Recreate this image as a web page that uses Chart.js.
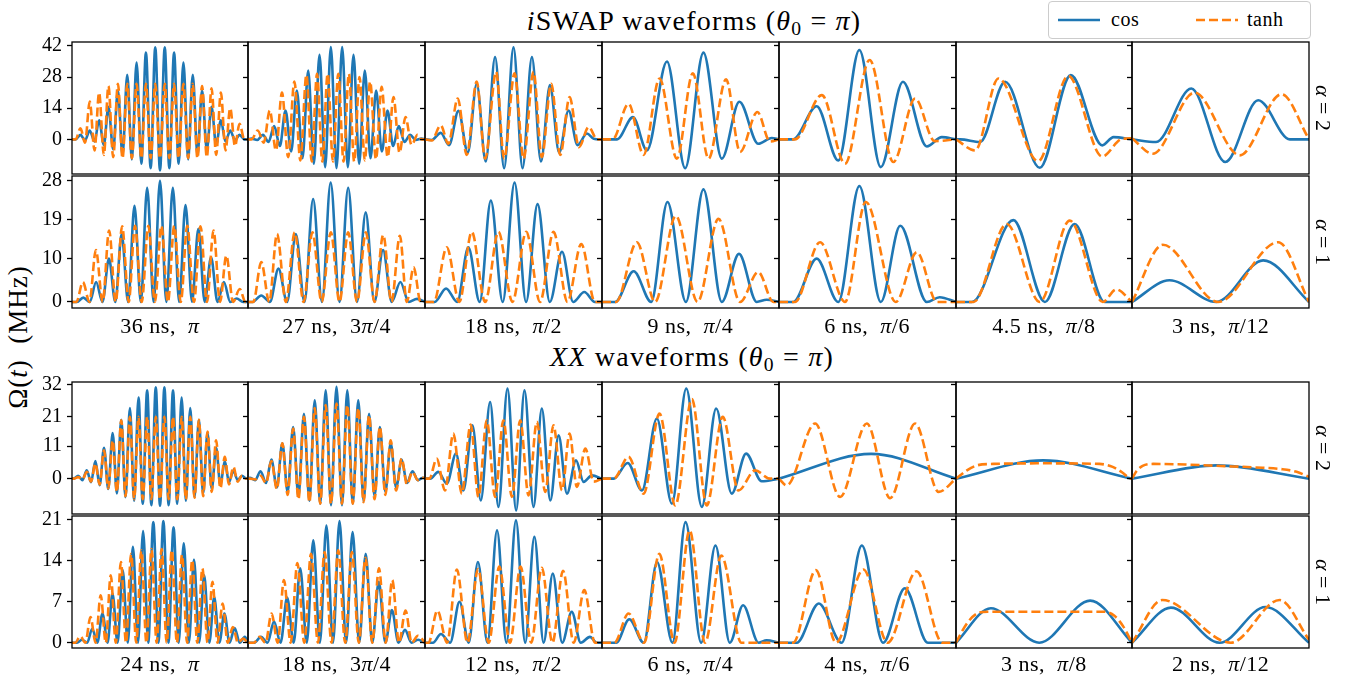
<!DOCTYPE html>
<html>
<head>
<meta charset="utf-8">
<script src="https://cdn.jsdelivr.net/npm/chart.js@4.4.0/dist/chart.umd.min.js"></script>
<style>
  body { margin: 0; background: #fff; }
  #fig { position: relative; width: 1361px; height: 683px; overflow: hidden;
         font-family: 'Liberation Serif', 'Times New Roman', serif; color: #000; }
  #fig canvas { position: absolute; }
  .txt { position: absolute; white-space: nowrap; line-height: 1; }
  .txt sub { font-size: 0.7em; vertical-align: -0.25em; line-height: 0; }
  #legend { position: absolute; left: 1048px; top: 1px; width: 261px; height: 36px;
            border: 1px solid #ccc; border-radius: 4px; background: #fff; font-size: 20px; }
  #legend svg { position: absolute; }
  #legend span { position: absolute; line-height: 1; letter-spacing: 0.5px; }
</style>
</head>
<body>
<div id="fig">
  <div class="txt" id="t1"><i>i</i>SWAP waveforms (<i>θ</i><sub>0</sub> = <i>π</i>)</div>
  <div class="txt" id="t2"><i>XX</i> waveforms (<i>θ</i><sub>0</sub> = <i>π</i>)</div>
  <div class="txt" id="ylab">Ω(<i>t</i>)&nbsp; (MHz)</div>
  <div id="legend">
    <svg style="left:9px;top:16px" width="42" height="4"><line x1="0" y1="2" x2="42" y2="2" stroke="#1f77b4" stroke-width="2.6"/></svg>
    <span style="left:62px;top:7px">cos</span>
    <svg style="left:147px;top:16px" width="42" height="4"><line x1="0" y1="2" x2="42" y2="2" stroke="#ff7f0e" stroke-width="2.6" stroke-dasharray="9,4"/></svg>
    <span style="left:198px;top:7px">tanh</span>
  </div>
</div>
<script>
// ---- data: extrema of each waveform, x = % of gate time, y = MHz ----
const iswapLabels = ['36 ns, π', '27 ns, 3π/4', '18 ns, π/2', '9 ns, π/4', '6 ns, π/6', '4.5 ns, π/8', '3 ns, π/12'];
const xxLabels = ['24 ns, π', '18 ns, 3π/4', '12 ns, π/2', '6 ns, π/4', '4 ns, π/6', '3 ns, π/8', '2 ns, π/12'];
const alphaLabels = ['α = 2', 'α = 1', 'α = 2', 'α = 1'];
const rowTicks = [[0, 14, 28, 42], [0, 10, 19, 28], [0, 11, 21, 32], [0, 7, 14, 21]];
const rowRanges = [[-15.6, 43.8], [-1.4, 29.1], [-12, 32.8], [-0.9, 21.65]];

const iswapA2Cos = [
  [[0,0],[2.1,0],[4.8,2],[7.4,-0.5],[10.1,4],[12.8,-1],[15.4,8.6],[18.1,-2.5],[20.7,14.6],[23.4,-4.5],[26.1,22],[28.7,-7],[31.4,29],[34,-9],[36.7,34.5],[39.4,-11],[42,39],[44.7,-13],[47.3,41.4],[50,-14],[52.7,41.4],[55.3,-13],[58,39],[60.6,-11],[63.3,34.5],[66,-9],[68.6,29],[71.3,-7],[73.9,22],[76.6,-4.5],[79.3,14.6],[81.9,-2.5],[84.6,8.6],[87.2,-1],[89.9,4],[92.6,-0.5],[95.2,2],[97.9,0],[100,0]],
  [[0,0],[2,0.3],[5.2,-0.3],[8.4,2],[11.6,-1.2],[14.8,6],[18,-3],[21.2,13],[24.4,-5.5],[27.6,22],[30.8,-8.5],[34,31],[37.2,-11],[40.4,38],[43.6,-12.5],[46.8,41.5],[50,-13],[53.2,41.5],[56.4,-12.5],[59.6,38],[62.8,-11],[66,31],[69.2,-8.5],[72.4,22],[75.6,-5.5],[78.8,13],[82,-3],[85.2,6],[88.4,-1.2],[91.6,2],[94.8,-0.3],[98,0.3],[100,0]],
  [[0,0],[3.8,-0.3],[8.9,2.9],[13.6,-2.6],[18.9,12.8],[24.2,-6],[29.2,25],[34.3,-10],[39.6,37],[44.7,-13],[50,41.4],[55.1,-13],[60.4,37],[65.5,-10],[70.6,24.4],[75.8,-6],[81.1,13],[86.2,-2.6],[91.5,2.6],[95.3,0.3],[100,0]],
  [[0,0],[8.5,0],[17.5,10],[25.4,-5],[36.7,35],[47,-13],[57.3,39],[67.7,-8.7],[77.6,16.9],[88.3,-2],[95.9,0.6],[100,0]],
  [[0,0],[8,0],[21.3,14.9],[33.5,-9.5],[45.4,40.2],[57.5,-12.5],[70,25.9],[83.5,-3.2],[92,1],[100,0]],
  [[0,0],[2.4,0],[13.7,-1.2],[27.9,25.9],[47.6,-12.8],[65.2,28.9],[83.1,-2.7],[89.5,1],[100,0]],
  [[0,0],[13.6,-1.2],[33.5,22.9],[52.7,-10.2],[71.3,17.6],[89.2,0],[100,0]]
];
const iswapA2Tanh = [
  [[0,0],[2.1,0],[4.8,5],[7.4,-1.5],[10.1,17],[12.8,-5],[15.4,21],[18.1,-7],[20.7,24],[23.4,-8],[26.1,25],[28.7,-8.5],[31.4,25],[34,-8.5],[36.7,25],[39.4,-8.5],[42,25],[44.7,-8.5],[47.3,25],[50,-8.5],[52.7,25],[55.3,-8.5],[58,25],[60.6,-8.5],[63.3,25],[66,-8.5],[68.6,25],[71.3,-8.5],[73.9,24],[76.6,-8],[79.3,23],[81.9,-7],[84.6,21],[87.2,-5],[89.9,14],[92.6,-3],[95.2,7],[97.9,0],[100,0]],
  [[0,0],[2,0],[5.5,4],[8.9,-1.5],[12.3,13],[15.8,-5],[19.2,21],[22.7,-8],[26.2,26],[29.6,-9.5],[33,29],[36,-10],[39,29.5],[42,-10],[45,29.5],[48,-10],[51,29.5],[54,-10],[57,29.5],[60,-10],[63,28],[66,-9.5],[69,26],[72.3,-9],[75.5,23.6],[78.9,-8],[82.2,19],[85.6,-6],[89,10],[92.4,-2.5],[95.8,2],[98,0],[100,0]],
  [[0,0],[3.8,-0.5],[8.9,6.3],[13.2,-2],[18.5,18.4],[23.6,-7],[29.2,26],[34,-8.7],[40.2,30.4],[44.7,-8.7],[50.6,29.7],[55.7,-8.7],[61.3,30.4],[66,-8],[71.3,25],[76.4,-7],[81.7,19],[87,-3.5],[92.5,5.6],[97.2,0],[100,0]],
  [[0,0],[6,0],[15,16],[23.5,-7],[32.5,27.4],[42.3,-8.7],[51.3,29.7],[60.2,-8.7],[70.1,27],[78,-5.7],[87.8,12.3],[94.9,-1],[100,0]],
  [[0,0],[9,0],[24.2,19.9],[37.3,-11],[51.2,35.7],[64.6,-10.2],[76.9,18.4],[88,-0.8],[100,0]],
  [[0,0],[10.9,-5],[24.1,27.4],[46.7,-9.8],[63.7,28.5],[83.1,-7.7],[93.8,0],[100,0.5]],
  [[0,0.5],[11.7,-6.5],[35.3,21],[60.9,-7.2],[84.5,20.3],[100,0]]
];

const iswapA1Cos = [
  [[0,0],[2.8,0],[6.4,1],[10.1,0],[13.7,4.6],[17.3,0],[21,10],[24.6,0],[28.2,15.7],[31.9,0],[35.5,22.2],[39.1,0],[42.7,26.4],[46.4,0],[50,28],[53.6,0],[57.3,26.4],[60.9,0],[64.5,22.4],[68.2,0],[71.8,16.9],[75.4,0],[79,10.3],[82.7,0],[86.3,4.6],[89.9,0],[93.6,0.8],[97.2,0],[100,0]],
  [[0,0],[2.6,0],[7.5,1.5],[12.4,0],[17.2,7.7],[22.1,0],[27,15.7],[31.9,0],[36.8,23.8],[41.8,0],[46.7,27.6],[51.7,0],[56.6,26.4],[61.6,0],[66.5,20.7],[71.4,0],[76.3,12],[81.2,0],[86.1,4.6],[90.8,0],[95.5,0.7],[100,0]],
  [[0,0],[5.5,0],[11.9,3.1],[18.2,0],[24.5,12.6],[30.9,0],[37.2,23.4],[43.9,0],[50.6,27.6],[57.1,0],[63.6,22.6],[70.5,0],[77.4,11.6],[83.7,0],[90,2.3],[96,0],[100,0]],
  [[0,0],[7.5,0],[17.9,7.1],[27.8,0],[37,23.1],[47.4,0],[57.3,26],[67.7,0],[77.4,11.1],[87.4,0],[93,0.5],[100,0]],
  [[0,0],[8.1,0],[21.3,10],[33.5,0],[45.4,26.8],[57.5,0],[68.5,17.6],[83.5,0],[90.8,1.1],[100,0]],
  [[0,0],[9,0],[32.6,18.9],[50.5,0],[67.4,18],[84.4,0],[100,0]],
  [[0,0],[21.2,5],[47.6,0],[74.1,9.6],[100,0]]
];
const iswapA1Tanh = [
  [[0,0],[2.5,0],[6.2,4.6],[9.9,0],[13.6,12],[17.4,0],[21.1,16.5],[24.8,0],[28.5,17.5],[32.2,0],[35.8,17.6],[39.6,0],[43.4,17.6],[47.1,0],[50.8,17.6],[54.5,0],[58.1,17.6],[61.8,0],[65.5,17.6],[69.3,0],[73,17.5],[76.7,0],[80.4,16.5],[84.1,0],[87.7,10.7],[91.5,0],[95.3,3],[98.5,0],[100,0]],
  [[0,0],[3,0],[7.5,9.2],[12,0],[16.4,15.7],[21.4,0],[26.4,16.1],[31.4,0],[36.4,16.1],[41.6,0],[46.8,16.1],[51.7,0],[56.6,16.1],[61.6,0],[66.6,16.1],[71.5,0],[76.4,15.5],[81.1,0],[85.8,15.3],[89.7,0],[93.6,8],[97.5,0],[100,0]],
  [[0,0],[5,0],[12.3,12.6],[19.4,0],[26.4,16.2],[34,0],[41.5,16.2],[49.4,0],[57.2,16.2],[65,0],[72.6,16.2],[80.5,0],[88.3,13.4],[96,0],[100,0]],
  [[0,0],[8,0],[19.7,13.8],[30,0],[41.7,19.9],[54,0],[65.8,19.2],[78,0],[88.3,6.9],[96.8,0],[100,0]],
  [[0,0],[9,0],[23.2,13.8],[37.3,0],[49,23.1],[66,0],[77.9,11.5],[89.2,0],[100,0]],
  [[0,0],[10,0],[28.8,18],[47.6,0],[64.6,18.8],[83.4,0],[91,2.9],[100,0]],
  [[0,0],[17.4,13.2],[48.6,0],[82.6,13.8],[100,0]]
];

const xxA2Cos = [
  [[0,0],[1,0],[3.5,1],[5.9,-0.5],[8.4,2.8],[10.8,-1.2],[13.3,6],[15.7,-2.2],[18.2,10.5],[20.6,-3.5],[23.1,15.5],[25.5,-5],[28,20],[30.4,-6.3],[32.9,24],[35.3,-7.5],[37.8,27.5],[40.2,-8.5],[42.7,30],[45.1,-9],[47.6,31],[50,-9.2],[52.5,31],[54.9,-9],[57.4,30],[59.8,-8.5],[62.3,27.5],[64.7,-7.5],[67.2,24],[69.6,-6.3],[72.1,20],[74.5,-5],[77,15.5],[79.4,-3.5],[81.9,10.5],[84.3,-2.2],[86.8,6],[89.2,-1.2],[91.7,2.8],[94.1,-0.5],[96.6,1],[99,0],[100,0]],
  [[0,0],[1,0.3],[4,-0.5],[7.1,2.5],[10.2,-1.5],[13.2,6.5],[16.3,-3],[19.4,12],[22.4,-4.5],[25.5,17.5],[28.5,-6],[31.6,22],[34.7,-7.5],[37.7,26.6],[40.8,-8.5],[43.9,30],[46.9,-9],[50,31.2],[53.1,-9],[56.1,30],[59.2,-8.5],[62.3,26.6],[65.3,-7.5],[68.4,22],[71.5,-6],[74.5,17.5],[77.6,-4.5],[80.6,12],[83.7,-3],[86.8,6.5],[89.8,-1.5],[92.9,2.5],[96,-0.5],[99,0.3],[100,0]],
  [[0,0],[3,0],[7.5,2.3],[12.3,-1.7],[17.5,8.5],[21.7,-4],[26.8,18.1],[31.5,-7.4],[36.8,26],[41.5,-9.6],[46.6,30.6],[51.5,-10.8],[56.2,30],[61.3,-9.6],[66,23.8],[70.8,-7.4],[75.5,14.7],[80.2,-5.1],[85.3,6.2],[89.6,-1.1],[94.3,1.1],[100,0]],
  [[0,0],[6.6,0],[14.5,5.3],[22.6,-4],[31,20.4],[39.5,-8.5],[47.6,30.6],[56.4,-9.6],[64.5,23.8],[73.3,-5.1],[81.4,8.5],[90.2,-0.9],[100,0]],
  [[0,0],[52,8.4],[100,0]],
  [[0,0],[49.5,6.2],[100,0]],
  [[0,0],[47.8,4.5],[100,0]]
];
const xxA2Tanh = [
  [[0,0],[1,0],[3.5,0.5],[5.9,-0.3],[8.4,2.3],[10.8,-1],[13.3,5.1],[15.7,-2],[18.2,9.6],[20.6,-3.3],[23.1,13],[25.5,-4.5],[28,19.8],[30.4,-6],[32.9,21],[35.3,-7],[37.8,21],[40.2,-7],[42.7,21],[45.1,-7],[47.6,21],[50,-7],[52.5,21],[54.9,-7],[57.4,21],[59.8,-7],[62.3,21],[64.7,-7],[67.2,21],[69.6,-6.5],[72.1,20],[74.5,-6],[77,16],[79.4,-4.5],[81.9,13],[84.3,-3.3],[86.8,7.4],[89.2,-2],[91.7,4],[94.1,-1],[96.6,1],[99,0],[100,0]],
  [[0,0],[1,0],[4,-0.3],[7.1,1],[10.2,-1.5],[13.2,6],[16.3,-3.5],[19.4,12],[22.4,-5.5],[25.5,17],[28.5,-7],[31.6,21],[34.7,-8],[37.7,24],[40.8,-8.5],[43.9,25],[46.9,-8.5],[50,25.5],[53.1,-8.5],[56.1,25],[59.2,-8.5],[62.3,24],[65.3,-8],[68.4,21.5],[71.5,-7],[74.5,17.6],[77.6,-5.5],[80.6,13],[83.7,-4],[86.8,6.8],[89.8,-2],[92.9,2.3],[96,-0.5],[99,0.3],[100,0]],
  [[0,0],[2.5,0],[6.6,6.8],[11.3,-4],[16,15.3],[20.8,-5.1],[25.8,18.4],[30.2,-6.2],[34.9,19.8],[39.6,-6.2],[44.3,19.8],[49.1,-6.2],[53.8,19.8],[58.5,-5.7],[63.2,19.3],[67.9,-4.5],[72.6,18.1],[77.4,-4],[81.7,15.3],[85.8,-2.8],[90.6,10.2],[95.3,-1],[100,0]],
  [[0,0],[6.6,0],[15,7.4],[23.5,-5.1],[32.5,22.1],[41.4,-9.1],[50.8,27],[59.2,-9.1],[68.2,21],[77.1,-4],[86.5,2.8],[95,0],[100,0]],
  [[0,0],[4.3,-2.3],[20.4,18.7],[34.5,-6.2],[49.6,18.7],[62.8,-6.6],[76.9,18.7],[90.2,-4.5],[100,0]],
  [[0,0],[6.2,2.8],[11.9,4.5],[21.3,5],[50,5.2],[81.5,5],[89,4],[94.7,2],[99.4,0],[100,0]],
  [[0,0],[2.5,2.5],[6,4.3],[12,5],[30,4.8],[50,4.3],[70,3.8],[85,3.2],[93,2.3],[100,0.6]]
];

const xxA1Cos = [
  [[0,0],[2.8,0],[5.7,0.5],[8.6,0],[11.5,2.4],[14.4,0],[17.3,5],[20.2,0],[23,8.4],[25.9,0],[28.8,12.4],[31.7,0],[34.6,16.4],[37.5,0],[40.4,19.1],[43.3,0],[46.2,20.6],[49.1,0],[51.9,20.8],[54.8,0],[57.7,19.7],[60.6,0],[63.5,17],[66.4,0],[69.3,14.2],[72.2,0],[75.1,11.5],[78,0],[80.8,7.8],[83.7,0],[86.6,5],[89.5,0],[92.4,2.5],[95.3,0],[98.2,1],[100,0]],
  [[0,0],[3.6,0],[7.3,1],[11,0],[14.7,3.6],[18.4,0],[22.1,7.7],[25.8,0],[29.5,12.7],[33.2,0],[36.9,17.5],[40.6,0],[44.3,20],[48,0],[51.7,20.8],[55.4,0],[59.1,18.9],[62.8,0],[66.5,15.2],[70.2,0],[73.9,10.4],[77.6,0],[81.3,5.6],[85,0],[88.7,2.2],[92.4,0],[96.1,0.5],[100,0]],
  [[0,0],[4.5,0],[9,1.5],[14.2,0],[19.5,7],[24.7,0],[29.9,13.8],[35.3,0],[40.7,19.2],[46,0],[51.4,20.9],[56.6,0],[61.8,18.1],[67,0],[72.2,11.8],[77.5,0],[82.9,5.3],[88,0],[93.2,1],[97,0],[100,0]],
  [[0,0],[8,0],[15.4,4],[23.6,0],[31.1,13.8],[39.8,0],[47.2,20.6],[56,0],[64.1,16.6],[72.2,0],[79.7,6.4],[88.5,0],[93,0.4],[100,0]],
  [[0,0],[10,0],[22.5,6.7],[35.4,0],[46.8,16.6],[58.8,0],[71.1,9.3],[84.1,0],[100,0]],
  [[0,0],[19.8,5.9],[47.3,0],[76.2,7.2],[100,0]],
  [[0,0],[22,6],[49.5,0],[75.4,6.1],[100,0]]
];
const xxA1Tanh = [
  [[0,0],[1.8,0],[4.7,1.1],[7.6,0],[10.5,4.4],[13.4,0],[16.3,8.1],[19.2,0],[22,11.5],[24.9,0],[27.8,13.8],[30.7,0],[33.6,15.2],[36.5,0],[39.4,15.8],[42.3,0],[45.2,16],[48.1,0],[50.9,16],[53.8,0],[56.7,15.8],[59.6,0],[62.5,15],[65.4,0],[68.3,14.1],[71.2,0],[74.1,12.7],[77,0],[79.8,10.4],[82.7,0],[85.6,6.7],[88.5,0],[91.4,2.7],[94.3,0],[97.2,0.7],[100,0]],
  [[0,0],[3.3,0],[6.5,1],[9.9,0],[13.3,5],[16.8,0],[20.3,10.7],[24.1,0],[27.9,13.6],[31.8,0],[35.6,15.2],[39.5,0],[43.3,15.5],[47.2,0],[51,15.8],[54.9,0],[58.7,15.5],[62.6,0],[66.4,14.5],[70.2,0],[74,12.7],[77.8,0],[81.5,10.7],[85.3,0],[89,5.5],[92.5,0],[96,1.2],[100,0]],
  [[0,0],[2,0],[7,5.5],[12.5,0],[18,12.5],[24,0],[30,12.6],[36,0],[42,13],[48,0],[54,13],[60,0],[66,12.8],[72,0],[78,12.3],[84,0],[90,9],[96,0],[100,0]],
  [[0,0],[7,0],[15,5],[23.8,0],[32.4,15.2],[41,0],[49.5,19.2],[58.2,0],[67.4,14.9],[78.8,0],[100,0]],
  [[0,0],[8,0],[20.8,12.4],[32.2,0],[47.7,12.5],[61.4,0],[77.7,12.2],[92.3,0],[100,0]],
  [[0,0],[6,3.2],[12,5],[18,5.3],[84,5.3],[90,4.6],[95,2.8],[100,0]],
  [[0,0],[17.1,7.3],[55.8,0],[83.4,7.3],[100,0.5]]
];

// ---- layout ----
const fig = document.getElementById('fig');
const PANEL_LEFT = 71.5, PANEL_W = 176.8;
const ROW_TOP = [42, 175.5, 382, 515.5];
const ROW_H = [131.5, 132.5, 131.5, 132.5];
const BLUE = '#1f77b4', ORANGE = '#ff7f0e';
const FONT = "'Liberation Serif', 'Times New Roman', serif";

const framePlugin = {
  id: 'frame',
  afterDraw(chart) {
    const { ctx, chartArea: a } = chart;
    ctx.save();
    ctx.strokeStyle = '#000';
    ctx.lineWidth = 1.3;
    ctx.strokeRect(a.left, a.top, a.right - a.left, a.bottom - a.top);
    ctx.restore();
  }
};

function makePanel(row, col, cos, tanh) {
  const padL = col === 0 ? 60 : 8, padR = 4, padT = 16, padB = 16;
  const x0 = Math.round(PANEL_LEFT + col * PANEL_W);
  const x1 = Math.round(PANEL_LEFT + (col + 1) * PANEL_W);
  const y0 = Math.round(ROW_TOP[row]), y1 = Math.round(ROW_TOP[row] + ROW_H[row]);
  const cv = document.createElement('canvas');
  const w = x1 - x0 + padL + padR, h = y1 - y0 + padT + padB;
  cv.width = w; cv.height = h;
  cv.style.left = (x0 - padL) + 'px';
  cv.style.top = (y0 - padT) + 'px';
  cv.style.width = w + 'px'; cv.style.height = h + 'px';
  fig.appendChild(cv);

  const ticks = rowTicks[row];
  new Chart(cv, {
    type: 'line',
    data: {
      datasets: [
        { label: 'tanh', data: tanh, borderColor: ORANGE, borderWidth: 2.6, borderDash: [9, 4],
          pointRadius: 0, cubicInterpolationMode: 'monotone', fill: false },
        { label: 'cos', data: cos, borderColor: BLUE, borderWidth: 2.6,
          pointRadius: 0, cubicInterpolationMode: 'monotone', fill: false }
      ]
    },
    options: {
      responsive: false,
      animation: false,
      devicePixelRatio: 1,
      layout: { padding: { left: 0, right: padR, top: padT, bottom: padB } },
      plugins: { legend: { display: false }, tooltip: { enabled: false } },
      scales: {
        x: { type: 'linear', min: 0, max: 100, display: false },
        y: {
          type: 'linear',
          min: rowRanges[row][0], max: rowRanges[row][1],
          afterBuildTicks: s => { s.ticks = ticks.map(v => ({ value: v })); },
          afterFit: s => { s.width = padL; s.paddingTop = 0; s.paddingBottom = 0; },
          ticks: { display: col === 0, autoSkip: false, padding: 5, color: '#000',
                   font: { family: FONT, size: 20 } },
          grid: { drawOnChartArea: false, drawTicks: true, tickLength: 5, tickColor: '#000', tickWidth: 1.3 },
          border: { display: false }
        }
      }
    },
    plugins: [framePlugin]
  });
}

const rows = [
  [iswapA2Cos, iswapA2Tanh],
  [iswapA1Cos, iswapA1Tanh],
  [xxA2Cos, xxA2Tanh],
  [xxA1Cos, xxA1Tanh]
];
rows.forEach(([cosRow, tanhRow], r) => {
  for (let c = 0; c < 7; c++) makePanel(r, c, cosRow[c], tanhRow[c]);
});

// ---- texts ----
function place(el, x, y, size, rot, spacing) {
  el.style.left = x + 'px';
  el.style.top = y + 'px';
  el.style.fontSize = size + 'px';
  if (spacing) el.style.letterSpacing = spacing + 'px';
  el.style.transform = 'translate(-50%,-50%)' + (rot ? ' rotate(' + rot + 'deg)' : '');
}
function addText(html, x, y, size, rot, spacing) {
  const d = document.createElement('div');
  d.className = 'txt';
  d.innerHTML = html;
  fig.appendChild(d);
  place(d, x, y, size, rot, spacing);
}
const mathify = s => s.replace(', ', ',&nbsp;&nbsp;').replace(/π/g, '<i>π</i>');

place(document.getElementById('t1'), 694, 21, 28, 0, 1.2);
place(document.getElementById('t2'), 692, 357, 28, 0, 1.2);
place(document.getElementById('ylab'), 18, 337, 27, -90, 1);

iswapLabels.forEach((s, c) => addText(mathify(s), PANEL_LEFT + (c + 0.5) * PANEL_W, 326, 22, 0, 0.5));
xxLabels.forEach((s, c) => addText(mathify(s), PANEL_LEFT + (c + 0.5) * PANEL_W, 664, 22, 0, 0.5));
alphaLabels.forEach((s, r) => addText(s.replace('α', '<i>α</i>'), 1323, ROW_TOP[r] + ROW_H[r] / 2, 22, 90));
</script>
</body>
</html>
